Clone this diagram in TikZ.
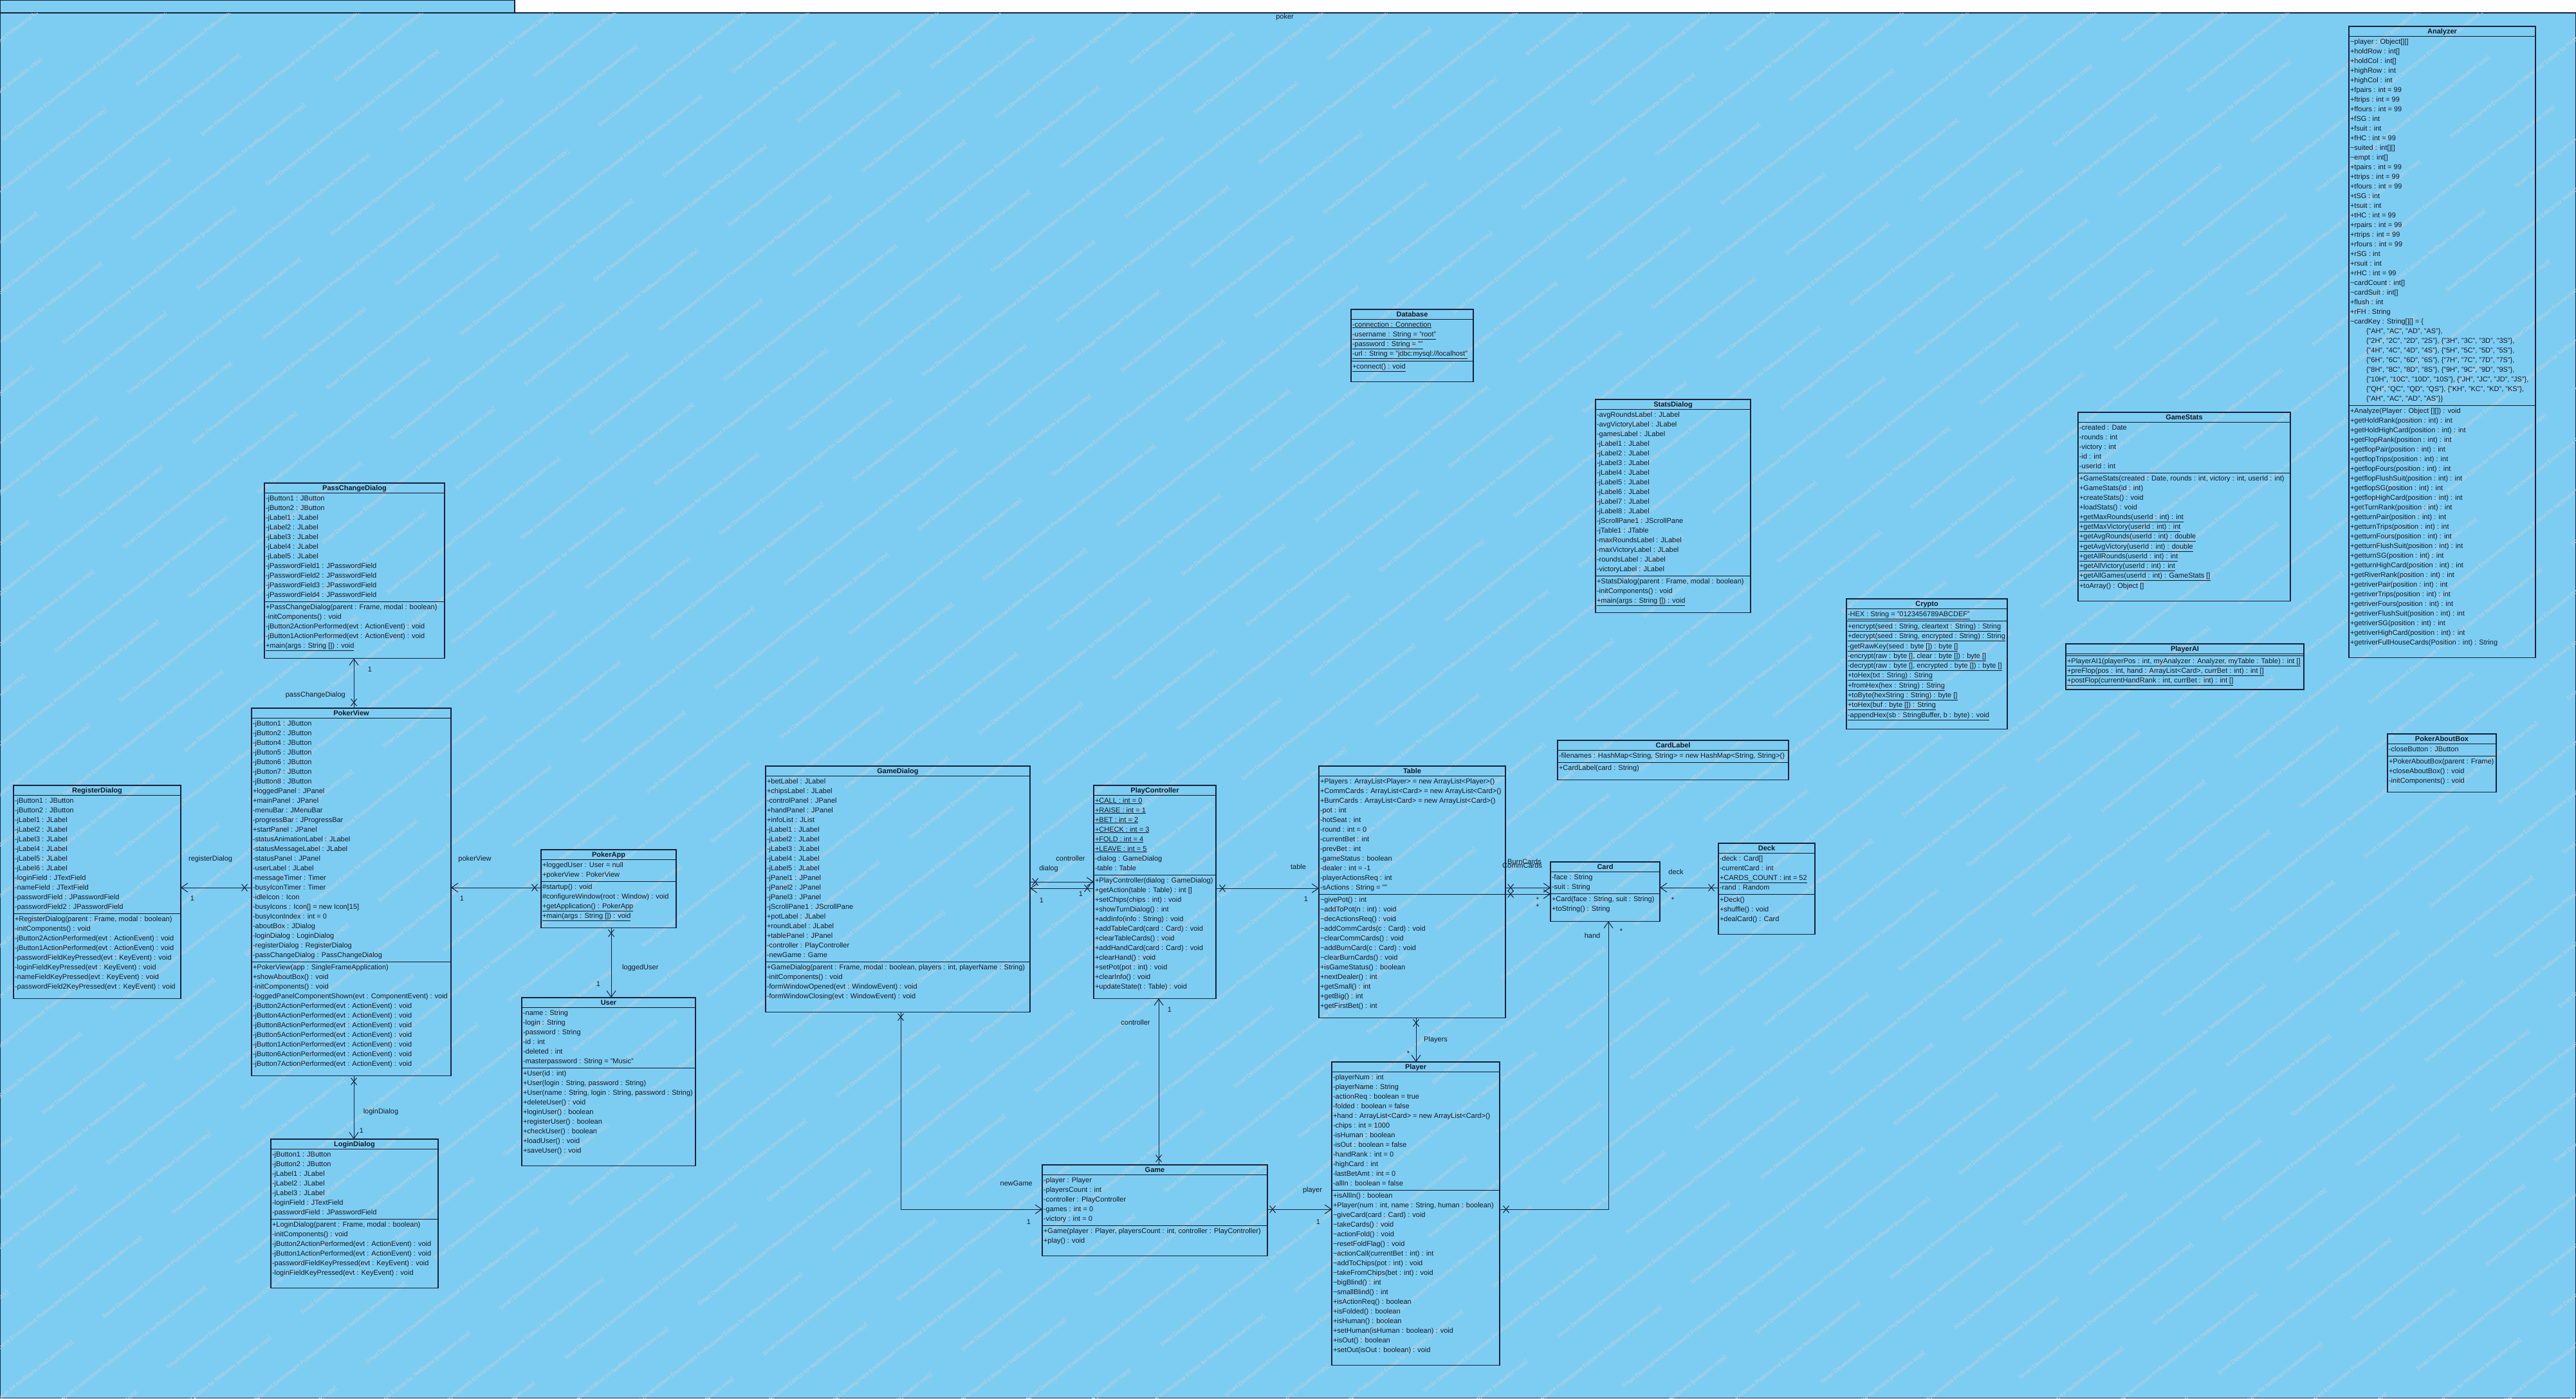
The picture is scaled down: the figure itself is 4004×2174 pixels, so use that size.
\documentclass[tikz,border=0pt]{standalone}
\usepackage{fontspec}
\setmainfont{Liberation Sans}
\usetikzlibrary{arrows.meta,calc}

\definecolor{pkbg}{RGB}{125,205,243}
\definecolor{pkline}{RGB}{22,32,56}
\definecolor{pktext}{RGB}{20,24,36}
\definecolor{pkwm}{RGB}{196,210,220}

% one class box: width, title, attribute rows, padding, operation rows, padding
\newlength\clsw
\newcommand\clsrow[1]{\hbox to \clsw{\rule[-4pt]{0pt}{15pt}\hskip2pt #1\hss}}
\newcommand\clsu[1]{\clsrow{\underline{#1}}}
\newcommand\clskey[1]{\hbox to \clsw{\rule[-4pt]{0pt}{15pt}\hskip27pt #1\hss}}
\newcommand\clsbox[6]{%
  \setlength\clsw{#1pt}%
  \vbox{\hsize=\clsw\offinterlineskip
    \hbox to \clsw{\hss\rule[-4pt]{0pt}{15pt}\bfseries #2\hss}%
    \hrule height 1.1pt
    #3\vskip #4pt
    \hrule height 1.1pt
    #5\vskip #6pt}}
\newcommand\tl{\textasciitilde}

\tikzset{
  classbox/.style={draw=pkline, line width=1.2pt, inner sep=0pt, outer sep=0pt,
    anchor=north west, text=pktext},
  assoc/.style={draw=pkline, line width=1pt,
    -{Straight Barb[length=10pt,width=14pt,line width=1pt]}},
  lbl/.style={text=pktext, inner sep=1pt},
  xmk/.pic={\draw[pkline, line width=1pt] (-4.5,-5.5) -- (4.5,5.5) (-4.5,5.5) -- (4.5,-5.5);},
  wm/.style={text=pkwm, font=\fontsize{9pt}{10pt}\selectfont, rotate=38, inner sep=0pt}
}

\begin{document}
\begin{tikzpicture}[x=1pt, y=-1pt, every node/.style={font=\fontsize{11pt}{15pt}\selectfont}]
\useasboundingbox (0,0) rectangle (4004,2174);

% package frame
\fill[white] (0,0) rectangle (4004,2174);
\path[fill=pkbg, draw=pkline, line width=1.2pt] (0.6,0.6) rectangle (800,20);
\path[fill=pkbg, draw=pkline, line width=1.2pt] (0.6,20) rectangle (4003.4,2173.4);

% tool watermark
\begin{scope}
\clip (0.6,20) rectangle (4003.4,2173.4);
\foreach \k in {0,...,69}{
  \foreach \t in {0,...,9}{
    \pgfmathsetmacro\s{\t*400+mod(\k*137,400)-400}
    \node[wm] (wm-\k-\t) at ({-2900+\k*100+\s*0.788},{2174-\s*0.6157})
      {Smart Development Environment Professional Edition for NetBeans [evaluation copy]};
  }
}
\end{scope}

\node[lbl] (pkgtitle) at (1997,27) {poker};

% ---------------- classes ----------------
\node[classbox] (analyzer) at (3651,41) {\clsbox{290}{Analyzer}{%
  \clsrow{\tl player : Object[][]}
  \clsrow{+holdRow : int[]}
  \clsrow{+holdCol : int[]}
  \clsrow{+highRow : int}
  \clsrow{+highCol : int}
  \clsrow{+fpairs : int = 99}
  \clsrow{+ftrips : int = 99}
  \clsrow{+ffours : int = 99}
  \clsrow{+fSG : int}
  \clsrow{+fsuit : int}
  \clsrow{+fHC : int = 99}
  \clsrow{\tl suited : int[][]}
  \clsrow{\tl empt : int[]}
  \clsrow{+tpairs : int = 99}
  \clsrow{+ttrips : int = 99}
  \clsrow{+tfours : int = 99}
  \clsrow{+tSG : int}
  \clsrow{+tsuit : int}
  \clsrow{+tHC : int = 99}
  \clsrow{+rpairs : int = 99}
  \clsrow{+rtrips : int = 99}
  \clsrow{+rfours : int = 99}
  \clsrow{+rSG : int}
  \clsrow{+rsuit : int}
  \clsrow{+rHC : int = 99}
  \clsrow{\tl cardCount : int[]}
  \clsrow{\tl cardSuit : int[]}
  \clsrow{+flush : int}
  \clsrow{+rFH : String}
  \clsrow{\tl cardKey : String[][] = \{}
  \clskey{\{"AH", "AC", "AD", "AS"\},}
  \clskey{\{"2H", "2C", "2D", "2S"\}, \{"3H", "3C", "3D", "3S"\},}
  \clskey{\{"4H", "4C", "4D", "4S"\}, \{"5H", "5C", "5D", "5S"\},}
  \clskey{\{"6H", "6C", "6D", "6S"\}, \{"7H", "7C", "7D", "7S"\},}
  \clskey{\{"8H", "8C", "8D", "8S"\}, \{"9H", "9C", "9D", "9S"\},}
  \clskey{\{"10H", "10C", "10D", "10S"\}, \{"JH", "JC", "JD", "JS"\},}
  \clskey{\{"QH", "QC", "QD", "QS"\}, \{"KH", "KC", "KD", "KS"\},}
  \clskey{\{"AH", "AC", "AD", "AS"\}\}}
}{3}{%
  \clsrow{+Analyze(Player : Object [][]) : void}
  \clsrow{+getHoldRank(position : int) : int}
  \clsrow{+getHoldHighCard(position : int) : int}
  \clsrow{+getFlopRank(position : int) : int}
  \clsrow{+getflopPair(position : int) : int}
  \clsrow{+getflopTrips(position : int) : int}
  \clsrow{+getflopFours(position : int) : int}
  \clsrow{+getflopFlushSuit(position : int) : int}
  \clsrow{+getflopSG(position : int) : int}
  \clsrow{+getflopHighCard(position : int) : int}
  \clsrow{+getTurnRank(position : int) : int}
  \clsrow{+getturnPair(position : int) : int}
  \clsrow{+getturnTrips(position : int) : int}
  \clsrow{+getturnFours(position : int) : int}
  \clsrow{+getturnFlushSuit(position : int) : int}
  \clsrow{+getturnSG(position : int) : int}
  \clsrow{+getturnHighCard(position : int) : int}
  \clsrow{+getRiverRank(position : int) : int}
  \clsrow{+getriverPair(position : int) : int}
  \clsrow{+getriverTrips(position : int) : int}
  \clsrow{+getriverFours(position : int) : int}
  \clsrow{+getriverFlushSuit(position : int) : int}
  \clsrow{+getriverSG(position : int) : int}
  \clsrow{+getriverHighCard(position : int) : int}
  \clsrow{+getriverFullHouseCards(Position : int) : String}
}{16}};

\node[classbox] (aboutbox) at (3711,1141) {\clsbox{169}{PokerAboutBox}{%
  \clsrow{-closeButton : JButton}
}{3}{%
  \clsrow{+PokerAboutBox(parent : Frame)}
  \clsrow{+closeAboutBox() : void}
  \clsrow{-initComponents() : void}
}{10}};

\node[classbox] (database) at (2100,481) {\clsbox{190}{Database}{%
  \clsu{-connection : Connection}
  \clsu{-username : String = "root"}
  \clsu{-password : String = ""}
  \clsu{-url : String = "jdbc:mysql://localhost"}
}{3}{%
  \clsu{+connect() : void}
}{16}};

\node[classbox] (stats) at (2480,621) {\clsbox{241}{StatsDialog}{%
  \clsrow{-avgRoundsLabel : JLabel}
  \clsrow{-avgVictoryLabel : JLabel}
  \clsrow{-gamesLabel : JLabel}
  \clsrow{-jLabel1 : JLabel}
  \clsrow{-jLabel2 : JLabel}
  \clsrow{-jLabel3 : JLabel}
  \clsrow{-jLabel4 : JLabel}
  \clsrow{-jLabel5 : JLabel}
  \clsrow{-jLabel6 : JLabel}
  \clsrow{-jLabel7 : JLabel}
  \clsrow{-jLabel8 : JLabel}
  \clsrow{-jScrollPane1 : JScrollPane}
  \clsrow{-jTable1 : JTable}
  \clsrow{-maxRoundsLabel : JLabel}
  \clsrow{-maxVictoryLabel : JLabel}
  \clsrow{-roundsLabel : JLabel}
  \clsrow{-victoryLabel : JLabel}
}{3}{%
  \clsrow{+StatsDialog(parent : Frame, modal : boolean)}
  \clsrow{-initComponents() : void}
  \clsu{+main(args : String []) : void}
}{11}};

\node[classbox] (gamestats) at (3230,641) {\clsbox{330}{GameStats}{%
  \clsrow{-created : Date}
  \clsrow{-rounds : int}
  \clsrow{-victory : int}
  \clsrow{-id : int}
  \clsrow{-userId : int}
}{3}{%
  \clsrow{+GameStats(created : Date, rounds : int, victory : int, userId : int)}
  \clsrow{+GameStats(id : int)}
  \clsrow{+createStats() : void}
  \clsrow{+loadStats() : void}
  \clsu{+getMaxRounds(userId : int) : int}
  \clsu{+getMaxVictory(userId : int) : int}
  \clsu{+getAvgRounds(userId : int) : double}
  \clsu{+getAvgVictory(userId : int) : double}
  \clsu{+getAllRounds(userId : int) : int}
  \clsu{+getAllVictory(userId : int) : int}
  \clsu{+getAllGames(userId : int) : GameStats []}
  \clsrow{+toArray() : Object []}
}{16}};

\node[classbox] (crypto) at (2870,931) {\clsbox{250}{Crypto}{%
  \clsu{-HEX : String = "0123456789ABCDEF"}
}{3}{%
  \clsu{+encrypt(seed : String, cleartext : String) : String}
  \clsu{+decrypt(seed : String, encrypted : String) : String}
  \clsu{-getRawKey(seed : byte []) : byte []}
  \clsu{-encrypt(raw : byte [], clear : byte []) : byte []}
  \clsu{-decrypt(raw : byte [], encrypted : byte []) : byte []}
  \clsu{+toHex(txt : String) : String}
  \clsu{+fromHex(hex : String) : String}
  \clsu{+toByte(hexString : String) : byte []}
  \clsu{+toHex(buf : byte []) : String}
  \clsu{-appendHex(sb : StringBuffer, b : byte) : void}
}{14}};

\node[classbox] (playerai) at (3211,1001) {\clsbox{370}{PlayerAI}{}{2}{%
  \clsu{+PlayerAI1(playerPos : int, myAnalyzer : Analyzer, myTable : Table) : int []}
  \clsu{+preFlop(pos : int, hand : ArrayList<Card>, currBet : int) : int []}
  \clsu{+postFlop(currentHandRank : int, currBet : int) : int []}
}{6}};

\node[classbox] (cardlabel) at (2421,1151) {\clsbox{359}{CardLabel}{%
  \clsrow{-filenames : HashMap<String, String> = new HashMap<String, String>()}
}{3}{%
  \clsrow{+CardLabel(card : String)}
}{11}};

\node[classbox] (table) at (2050,1191) {\clsbox{290}{Table}{%
  \clsrow{+Players : ArrayList<Player> = new ArrayList<Player>()}
  \clsrow{+CommCards : ArrayList<Card> = new ArrayList<Card>()}
  \clsrow{+BurnCards : ArrayList<Card> = new ArrayList<Card>()}
  \clsrow{-pot : int}
  \clsrow{-hotSeat : int}
  \clsrow{-round : int = 0}
  \clsrow{-currentBet : int}
  \clsrow{-prevBet : int}
  \clsrow{-gameStatus : boolean}
  \clsrow{-dealer : int = -1}
  \clsrow{-playerActionsReq : int}
  \clsrow{-sActions : String = ""}
}{3}{%
  \clsrow{\tl givePot() : int}
  \clsrow{\tl addToPot(n : int) : void}
  \clsrow{\tl decActionsReq() : void}
  \clsrow{\tl addCommCards(c : Card) : void}
  \clsrow{\tl clearCommCards() : void}
  \clsrow{\tl addBurnCard(c : Card) : void}
  \clsrow{\tl clearBurnCards() : void}
  \clsrow{+isGameStatus() : boolean}
  \clsrow{+nextDealer() : int}
  \clsrow{+getSmall() : int}
  \clsrow{+getBig() : int}
  \clsrow{+getFirstBet() : int}
}{11}};

\node[classbox] (card) at (2410,1340) {\clsbox{170}{Card}{%
  \clsrow{-face : String}
  \clsrow{-suit : String}
}{3}{%
  \clsrow{+Card(face : String, suit : String)}
  \clsrow{+toString() : String}
}{12}};

\node[classbox] (deck) at (2671,1311) {\clsbox{150}{Deck}{%
  \clsrow{-deck : Card[]}
  \clsrow{-currentCard : int}
  \clsu{+CARDS\_COUNT : int = 52}
  \clsrow{-rand : Random}
}{3}{%
  \clsrow{+Deck()}
  \clsrow{+shuffle() : void}
  \clsrow{+dealCard() : Card}
}{16}};

\node[classbox] (game) at (1620,1811) {\clsbox{350}{Game}{%
  \clsrow{-player : Player}
  \clsrow{-playersCount : int}
  \clsrow{-controller : PlayController}
  \clsrow{-games : int = 0}
  \clsrow{-victory : int = 0}
}{3}{%
  \clsrow{+Game(player : Player, playersCount : int, controller : PlayController)}
  \clsrow{+play() : void}
}{16}};

\node[classbox] (player) at (2070,1651) {\clsbox{261}{Player}{%
  \clsrow{-playerNum : int}
  \clsrow{-playerName : String}
  \clsrow{-actionReq : boolean = true}
  \clsrow{-folded : boolean = false}
  \clsrow{+hand : ArrayList<Card> = new ArrayList<Card>()}
  \clsrow{-chips : int = 1000}
  \clsrow{-isHuman : boolean}
  \clsrow{-isOut : boolean = false}
  \clsrow{-handRank : int = 0}
  \clsrow{-highCard : int}
  \clsrow{-lastBetAmt : int = 0}
  \clsrow{-allIn : boolean = false}
}{3}{%
  \clsrow{+isAllIn() : boolean}
  \clsrow{+Player(num : int, name : String, human : boolean)}
  \clsrow{\tl giveCard(card : Card) : void}
  \clsrow{\tl takeCards() : void}
  \clsrow{\tl actionFold() : void}
  \clsrow{\tl resetFoldFlag() : void}
  \clsrow{\tl actionCall(currentBet : int) : int}
  \clsrow{\tl addToChips(pot : int) : void}
  \clsrow{\tl takeFromChips(bet : int) : void}
  \clsrow{\tl bigBlind() : int}
  \clsrow{\tl smallBlind() : int}
  \clsrow{+isActionReq() : boolean}
  \clsrow{+isFolded() : boolean}
  \clsrow{+isHuman() : boolean}
  \clsrow{+setHuman(isHuman : boolean) : void}
  \clsrow{+isOut() : boolean}
  \clsrow{+setOut(isOut : boolean) : void}
}{16}};

\node[classbox] (gamedialog) at (1190,1191) {\clsbox{411}{GameDialog}{%
  \clsrow{+betLabel : JLabel}
  \clsrow{+chipsLabel : JLabel}
  \clsrow{-controlPanel : JPanel}
  \clsrow{+handPanel : JPanel}
  \clsrow{+infoList : JList}
  \clsrow{-jLabel1 : JLabel}
  \clsrow{-jLabel2 : JLabel}
  \clsrow{-jLabel3 : JLabel}
  \clsrow{-jLabel4 : JLabel}
  \clsrow{-jLabel5 : JLabel}
  \clsrow{-jPanel1 : JPanel}
  \clsrow{-jPanel2 : JPanel}
  \clsrow{-jPanel3 : JPanel}
  \clsrow{-jScrollPane1 : JScrollPane}
  \clsrow{+potLabel : JLabel}
  \clsrow{+roundLabel : JLabel}
  \clsrow{+tablePanel : JPanel}
  \clsrow{-controller : PlayController}
  \clsrow{-newGame : Game}
}{3}{%
  \clsrow{+GameDialog(parent : Frame, modal : boolean, players : int, playerName : String)}
  \clsrow{-initComponents() : void}
  \clsrow{-formWindowOpened(evt : WindowEvent) : void}
  \clsrow{-formWindowClosing(evt : WindowEvent) : void}
}{17}};

\node[classbox] (playctrl) at (1700,1221) {\clsbox{190}{PlayController}{%
  \clsu{+CALL : int = 0}
  \clsu{+RAISE : int = 1}
  \clsu{+BET : int = 2}
  \clsu{+CHECK : int = 3}
  \clsu{+FOLD : int = 4}
  \clsu{+LEAVE : int = 5}
  \clsrow{-dialog : GameDialog}
  \clsrow{-table : Table}
}{3}{%
  \clsrow{+PlayController(dialog : GameDialog)}
  \clsrow{+getAction(table : Table) : int []}
  \clsrow{+setChips(chips : int) : void}
  \clsrow{+showTurnDialog() : int}
  \clsrow{+addInfo(info : String) : void}
  \clsrow{+addTableCard(card : Card) : void}
  \clsrow{+clearTableCards() : void}
  \clsrow{+addHandCard(card : Card) : void}
  \clsrow{+clearHand() : void}
  \clsrow{+setPot(pot : int) : void}
  \clsrow{+clearInfo() : void}
  \clsrow{+updateState(t : Table) : void}
}{11}};

\node[classbox] (passchange) at (411,751) {\clsbox{280}{PassChangeDialog}{%
  \clsrow{-jButton1 : JButton}
  \clsrow{-jButton2 : JButton}
  \clsrow{-jLabel1 : JLabel}
  \clsrow{-jLabel2 : JLabel}
  \clsrow{-jLabel3 : JLabel}
  \clsrow{-jLabel4 : JLabel}
  \clsrow{-jLabel5 : JLabel}
  \clsrow{-jPasswordField1 : JPasswordField}
  \clsrow{-jPasswordField2 : JPasswordField}
  \clsrow{-jPasswordField3 : JPasswordField}
  \clsrow{-jPasswordField4 : JPasswordField}
}{3}{%
  \clsrow{+PassChangeDialog(parent : Frame, modal : boolean)}
  \clsrow{-initComponents() : void}
  \clsrow{-jButton2ActionPerformed(evt : ActionEvent) : void}
  \clsrow{-jButton1ActionPerformed(evt : ActionEvent) : void}
  \clsu{+main(args : String []) : void}
}{12}};

\node[classbox] (pokerview) at (391,1101) {\clsbox{310}{PokerView}{%
  \clsrow{-jButton1 : JButton}
  \clsrow{-jButton2 : JButton}
  \clsrow{-jButton4 : JButton}
  \clsrow{-jButton5 : JButton}
  \clsrow{-jButton6 : JButton}
  \clsrow{-jButton7 : JButton}
  \clsrow{-jButton8 : JButton}
  \clsrow{+loggedPanel : JPanel}
  \clsrow{+mainPanel : JPanel}
  \clsrow{-menuBar : JMenuBar}
  \clsrow{-progressBar : JProgressBar}
  \clsrow{+startPanel : JPanel}
  \clsrow{-statusAnimationLabel : JLabel}
  \clsrow{-statusMessageLabel : JLabel}
  \clsrow{-statusPanel : JPanel}
  \clsrow{-userLabel : JLabel}
  \clsrow{-messageTimer : Timer}
  \clsrow{-busyIconTimer : Timer}
  \clsrow{-idleIcon : Icon}
  \clsrow{-busyIcons : Icon[] = new Icon[15]}
  \clsrow{-busyIconIndex : int = 0}
  \clsrow{-aboutBox : JDialog}
  \clsrow{-loginDialog : LoginDialog}
  \clsrow{-registerDialog : RegisterDialog}
  \clsrow{-passChangeDialog : PassChangeDialog}
}{3}{%
  \clsrow{+PokerView(app : SingleFrameApplication)}
  \clsrow{+showAboutBox() : void}
  \clsrow{-initComponents() : void}
  \clsrow{-loggedPanelComponentShown(evt : ComponentEvent) : void}
  \clsrow{-jButton2ActionPerformed(evt : ActionEvent) : void}
  \clsrow{-jButton4ActionPerformed(evt : ActionEvent) : void}
  \clsrow{-jButton8ActionPerformed(evt : ActionEvent) : void}
  \clsrow{-jButton5ActionPerformed(evt : ActionEvent) : void}
  \clsrow{-jButton1ActionPerformed(evt : ActionEvent) : void}
  \clsrow{-jButton6ActionPerformed(evt : ActionEvent) : void}
  \clsrow{-jButton7ActionPerformed(evt : ActionEvent) : void}
}{11}};

\node[classbox] (register) at (21,1221) {\clsbox{260}{RegisterDialog}{%
  \clsrow{-jButton1 : JButton}
  \clsrow{-jButton2 : JButton}
  \clsrow{-jLabel1 : JLabel}
  \clsrow{-jLabel2 : JLabel}
  \clsrow{-jLabel3 : JLabel}
  \clsrow{-jLabel4 : JLabel}
  \clsrow{-jLabel5 : JLabel}
  \clsrow{-jLabel6 : JLabel}
  \clsrow{-loginField : JTextField}
  \clsrow{-nameField : JTextField}
  \clsrow{-passwordField : JPasswordField}
  \clsrow{-passwordField2 : JPasswordField}
}{3}{%
  \clsrow{+RegisterDialog(parent : Frame, modal : boolean)}
  \clsrow{-initComponents() : void}
  \clsrow{-jButton2ActionPerformed(evt : ActionEvent) : void}
  \clsrow{-jButton1ActionPerformed(evt : ActionEvent) : void}
  \clsrow{-passwordFieldKeyPressed(evt : KeyEvent) : void}
  \clsrow{-loginFieldKeyPressed(evt : KeyEvent) : void}
  \clsrow{-nameFieldKeyPressed(evt : KeyEvent) : void}
  \clsrow{-passwordField2KeyPressed(evt : KeyEvent) : void}
}{11}};

\node[classbox] (login) at (421,1771) {\clsbox{260}{LoginDialog}{%
  \clsrow{-jButton1 : JButton}
  \clsrow{-jButton2 : JButton}
  \clsrow{-jLabel1 : JLabel}
  \clsrow{-jLabel2 : JLabel}
  \clsrow{-jLabel3 : JLabel}
  \clsrow{-loginField : JTextField}
  \clsrow{-passwordField : JPasswordField}
}{3}{%
  \clsrow{+LoginDialog(parent : Frame, modal : boolean)}
  \clsrow{-initComponents() : void}
  \clsrow{-jButton2ActionPerformed(evt : ActionEvent) : void}
  \clsrow{-jButton1ActionPerformed(evt : ActionEvent) : void}
  \clsrow{-passwordFieldKeyPressed(evt : KeyEvent) : void}
  \clsrow{-loginFieldKeyPressed(evt : KeyEvent) : void}
}{16}};

\node[classbox] (pokerapp) at (841,1321) {\clsbox{210}{PokerApp}{%
  \clsrow{+loggedUser : User = null}
  \clsrow{+pokerView : PokerView}
}{3}{%
  \clsrow{\#startup() : void}
  \clsrow{\#configureWindow(root : Window) : void}
  \clsu{+getApplication() : PokerApp}
  \clsu{+main(args : String []) : void}
}{11}};

\node[classbox] (user) at (811,1551) {\clsbox{270}{User}{%
  \clsrow{-name : String}
  \clsrow{-login : String}
  \clsrow{-password : String}
  \clsrow{-id : int}
  \clsrow{-deleted : int}
  \clsrow{-masterpassword : String = "Music"}
}{3}{%
  \clsrow{+User(id : int)}
  \clsrow{+User(login : String, password : String)}
  \clsrow{+User(name : String, login : String, password : String)}
  \clsrow{+deleteUser() : void}
  \clsrow{+loginUser() : boolean}
  \clsrow{+registerUser() : boolean}
  \clsrow{+checkUser() : boolean}
  \clsrow{+loadUser() : void}
  \clsrow{+saveUser() : void}
}{16}};

% ---------------- associations ----------------
\coordinate (h1371) at (0,1371);
\coordinate (h1380) at (0,1380);
\coordinate (h1381) at (0,1381);
\coordinate (h1390) at (0,1390);
\coordinate (h1880) at (0,1880);
\coordinate (v550) at (550,0);
\coordinate (v950) at (950,0);
\coordinate (v1400) at (1400,0);
\coordinate (v1801) at (1801,0);
\coordinate (v2201) at (2201,0);
\coordinate (v2500) at (2500,0);

% PokerView -> PassChangeDialog
\draw[assoc] (pokerview.north -| v550) -- (passchange.south -| v550);
\pic at ($(pokerview.north -| v550)+(0,-9)$) {xmk};
\node[lbl, anchor=east] (lpass) at (538,1081) {passChangeDialog};
\node[lbl] (mpass) at (575,1041) {1};

% PokerView -> RegisterDialog
\draw[assoc] (pokerview.west |- h1380) -- (register.east |- h1380);
\pic at ($(pokerview.west |- h1380)+(-11,0)$) {xmk};
\node[lbl, anchor=west] (lreg) at (292,1336) {registerDialog};
\node[lbl] (mreg) at (299,1397) {1};

% PokerApp -> PokerView
\draw[assoc] (pokerapp.west |- h1380) -- (pokerview.east |- h1380);
\pic at ($(pokerapp.west |- h1380)+(-10,0)$) {xmk};
\node[lbl] (lview) at (738,1336) {pokerView};
\node[lbl] (mview) at (718,1397) {1};

% PokerApp -> User
\draw[assoc] (pokerapp.south -| v950) -- (user.north -| v950);
\pic at ($(pokerapp.south -| v950)+(0,8)$) {xmk};
\node[lbl, anchor=west] (luser) at (966,1505) {loggedUser};
\node[lbl] (muser) at (930,1530) {1};

% PokerView -> LoginDialog
\draw[assoc] (pokerview.south -| v550) -- (login.north -| v550);
\pic at ($(pokerview.south -| v550)+(0,9)$) {xmk};
\node[lbl] (llogin) at (592,1729) {loginDialog};
\node[lbl] (mlogin) at (562,1758) {1};

% GameDialog <-> PlayController
\draw[assoc] (gamedialog.east |- h1371) -- (playctrl.west |- h1371);
\pic at ($(gamedialog.east |- h1371)+(8,0)$) {xmk};
\draw[assoc] (playctrl.west |- h1381) -- (gamedialog.east |- h1381);
\pic at ($(playctrl.west |- h1381)+(-10,0)$) {xmk};
\node[lbl] (lctrl) at (1664,1335) {controller};
\node[lbl] (ldialog) at (1630,1351) {dialog};
\node[lbl] (mdialog) at (1619,1400) {1};
\node[lbl] (mctrl) at (1680,1390) {1};

% PlayController -> Table
\draw[assoc] (playctrl.east |- h1381) -- (table.west |- h1381);
\pic at ($(playctrl.east |- h1381)+(10,0)$) {xmk};
\node[lbl] (ltable) at (2018,1348) {table};
\node[lbl] (mtable) at (2030,1398) {1};

% Table -> Card (BurnCards, CommCards)
\draw[assoc] (table.east |- h1380) -- (card.west |- h1380);
\pic at ($(table.east |- h1380)+(8,0)$) {xmk};
\draw[assoc] (table.east |- h1390) -- (card.west |- h1390);
\pic at ($(table.east |- h1390)+(8,0)$) {xmk};
\node[lbl, anchor=west] (lburn) at (2342,1340) {BurnCards};
\node[lbl, anchor=west] (lcomm) at (2334,1346) {CommCards};
\node[lbl] (mburn) at (2390,1399) {*};
\node[lbl] (mcomm) at (2390,1410) {*};

% Deck -> Card
\draw[assoc] (deck.west |- h1380) -- (card.east |- h1380);
\pic at ($(deck.west |- h1380)+(-11,0)$) {xmk};
\node[lbl] (ldeck) at (2605,1356) {deck};
\node[lbl] (mdeck) at (2600,1399) {*};

% Player -> Card (hand)
\draw[assoc] (player.east |- h1880) -- (v2500 |- h1880) -- (card.south -| v2500);
\pic at ($(player.east |- h1880)+(10,0)$) {xmk};
\node[lbl] (lhand) at (2475,1455) {hand};
\node[lbl] (mhand) at (2520,1448) {*};

% Table -> Player (Players)
\draw[assoc] (table.south -| v2201) -- (player.north -| v2201);
\pic at ($(table.south -| v2201)+(0,8)$) {xmk};
\node[lbl, anchor=west] (lplayers) at (2212,1617) {Players};
\node[lbl] (mplayers) at (2189,1638) {*};

% Game -> Player
\draw[assoc] (game.east |- h1880) -- (player.west |- h1880);
\pic at ($(game.east |- h1880)+(8,0)$) {xmk};
\node[lbl] (lplayer) at (2040,1851) {player};
\node[lbl] (mplayer) at (2049,1900) {1};

% GameDialog -> Game
\draw[assoc] (gamedialog.south -| v1400) -- (v1400 |- h1880) -- (game.west |- h1880);
\pic at ($(gamedialog.south -| v1400)+(0,8)$) {xmk};
\node[lbl, anchor=east] (lnewgame) at (1606,1840) {newGame};
\node[lbl] (mnewgame) at (1599,1900) {1};

% Game -> PlayController
\draw[assoc] (game.north -| v1801) -- (playctrl.south -| v1801);
\pic at ($(game.north -| v1801)+(0,-10)$) {xmk};
\node[lbl] (lgamectrl) at (1765,1590) {controller};
\node[lbl] (mgamectrl) at (1818,1570) {1};

\end{tikzpicture}
\end{document}
